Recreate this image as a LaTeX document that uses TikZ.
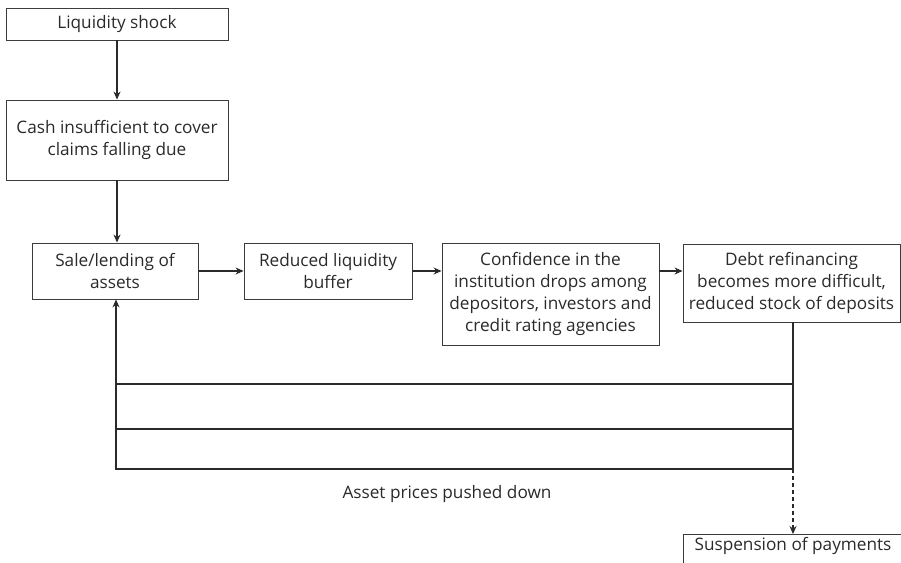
\documentclass[tikz,border=0pt]{standalone}
\usepackage{fontspec}
\setmainfont{Open Sans}
\usetikzlibrary{arrows.meta}
\definecolor{ink}{HTML}{2A2A2A}
\definecolor{frame}{HTML}{3C3C3C}
\begin{document}
\begin{tikzpicture}[x=1pt,y=-1pt,
  box/.style={draw=frame, line width=0.9pt, rectangle, align=center,
    inner sep=0pt, text=ink, font=\fontsize{17.2}{22}\selectfont},
  link/.style={draw=ink, line width=1.1pt},
  arr/.style={link, -{Stealth[length=8pt,width=7pt]}},
]
\clip (0,0) rectangle (901,562);
\useasboundingbox (0,0) rectangle (901,562);

% main chain
\node[box, minimum width=222, minimum height=32] (shock) at (117,24) {Liquidity shock};
\node[box, minimum width=222, minimum height=80] (cash) at (117,140)
  {Cash insufficient to cover\\claims falling due};
\node[box, minimum width=166, minimum height=56] (sale) at (115,271)
  {Sale/lending of\\assets};
\node[box, minimum width=168, minimum height=56] (buffer) at (328,271)
  {Reduced liquidity\\buffer};
\node[box, minimum width=217, minimum height=102] (conf) at (550.5,294)
  {Confidence in the\\institution drops among\\depositors, investors and\\credit rating agencies};
\node[box, minimum width=217, minimum height=78] (debt) at (791.5,283)
  {Debt refinancing\\becomes more difficult,\\reduced stock of deposits};
\node[box, anchor=north, minimum width=220, inner ysep=3pt,
  text height=13pt, text depth=26pt] (susp) at (793,534) {Suspension of payments};

\node[text=ink, font=\fontsize{17.2}{22}\selectfont] (prices) at (447,494) {Asset prices pushed down};

% arrows along the chain
\draw[arr] (shock) -- (cash);
\draw[arr] (cash.south) -- (cash.south |- sale.north);
\draw[arr] (sale.east) -- (buffer.west);
\draw[arr] (buffer.east) -- (buffer.east -| conf.west);
\draw[arr] (buffer.east -| conf.east) -- (buffer.east -| debt.west);

% feedback loops back to asset sales
\coordinate (r1) at (793,384);
\coordinate (r2) at (793,429);
\coordinate (r3) at (793,469);
\coordinate (l1) at (116,384);
\coordinate (l2) at (116,429);
\coordinate (l3) at (116,469);
\draw[link] (debt.south -| r3) -- (r3);
\draw[link] (r1) -- (l1);
\draw[link] (r2) -- (l2);
\draw[arr] (r3) -- (l3) -- (l3 |- sale.south);

% possible outcome
\draw[arr, dashed, dash pattern=on 4pt off 3pt] (r3) -- (susp.north);
\end{tikzpicture}
\end{document}
